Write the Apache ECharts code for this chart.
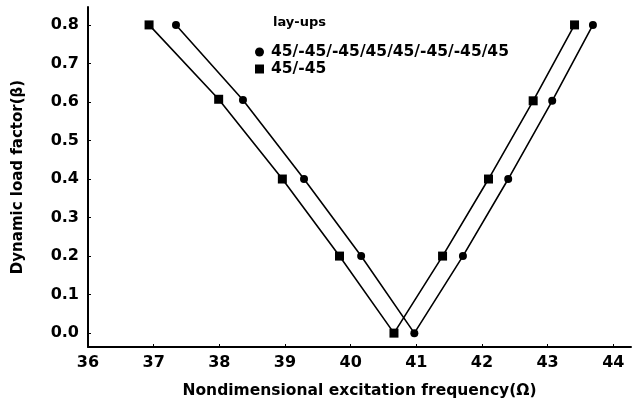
<!DOCTYPE html>
<html>
<head>
<meta charset="utf-8">
<script src="https://cdn.jsdelivr.net/npm/echarts@6/dist/echarts.min.js"></script>
<style>html,body{margin:0;padding:0;background:#fff;}#c{width:632px;height:406px;}</style>
</head>
<body>
<div id="c"></div>
<script>
const seriesNames = ['45/-45/-45/45/45/-45/-45/45', '45/-45'];
const legendTitle = 'lay-ups';
const xAxisName = 'Nondimensional excitation frequency(Ω)';
const yAxisName = 'Dynamic load factor(β)';
const xTicks = [36, 37, 38, 39, 40, 41, 42, 43, 44];
const yTicks = [0.0, 0.1, 0.2, 0.3, 0.4, 0.5, 0.6, 0.7, 0.8];

const circleX = [37.34, 38.36, 39.29, 40.16, 40.97, 41.71, 42.40, 43.07, 43.69];
const circleY = [0.8, 0.605, 0.4, 0.2, 0.0, 0.2, 0.4, 0.603, 0.8];
const squareX = [36.93, 37.99, 38.96, 39.83, 40.66, 41.40, 42.10, 42.78, 43.41];
const squareY = [0.8, 0.607, 0.4, 0.2, 0.0, 0.2, 0.4, 0.603, 0.8];

const font = 'DejaVu Sans';
const zip = (xs, ys) => xs.map((x, i) => [x, ys[i]]);

const chart = echarts.init(document.getElementById('c'));
chart.setOption({
  animation: false,
  backgroundColor: '#fff',
  textStyle: { fontFamily: font, color: '#000' },
  title: {
    text: legendTitle, left: 268, top: 11,
    textStyle: { fontFamily: font, fontSize: 13, fontWeight: 'bold', color: '#000' }
  },
  legend: {
    orient: 'vertical', left: 250, top: 39, itemGap: 1,
    itemWidth: 9, itemHeight: 9,
    textStyle: { fontFamily: font, fontSize: 15.5, fontWeight: 'bold', color: '#000', padding: [0, 0, 0, 2] },
    data: [{ name: seriesNames[0], icon: 'circle' }, { name: seriesNames[1], icon: 'rect' }]
  },
  grid: { left: 88, right: 1, top: 7, bottom: 59 },
  xAxis: {
    type: 'value', min: 36, max: 44.27, interval: 1,
    name: xAxisName, nameLocation: 'middle', nameGap: 36,
    nameTextStyle: { fontFamily: font, fontSize: 15.5, fontWeight: 'bold', color: '#000' },
    axisLine: { onZero: false, lineStyle: { color: '#000', width: 2 } },
    axisTick: { inside: true, length: 3, lineStyle: { color: '#000' }, customValues: xTicks },
    axisLabel: { customValues: xTicks, margin: 8, fontFamily: font, fontSize: 16, fontWeight: 'bold', color: '#000' },
    splitLine: { show: false }
  },
  yAxis: {
    type: 'value', min: -0.036, max: 0.8465,
    name: yAxisName, nameLocation: 'middle', nameGap: 62,
    nameTextStyle: { fontFamily: font, fontSize: 15, fontWeight: 'bold', color: '#000' },
    axisLine: { show: true, onZero: false, lineStyle: { color: '#000', width: 2 } },
    axisTick: { show: true, inside: true, length: 3, lineStyle: { color: '#000' }, customValues: yTicks },
    axisLabel: { customValues: yTicks, margin: 9, fontFamily: font, fontSize: 16, fontWeight: 'bold', color: '#000',
      formatter: v => v.toFixed(1) },
    splitLine: { show: false }
  },
  series: [
    { name: seriesNames[0], type: 'line', data: zip(circleX, circleY), symbol: 'circle', symbolSize: 8,
      lineStyle: { color: '#000', width: 1.6 }, itemStyle: { color: '#000' } },
    { name: seriesNames[1], type: 'line', data: zip(squareX, squareY), symbol: 'rect', symbolSize: 9,
      lineStyle: { color: '#000', width: 1.6 }, itemStyle: { color: '#000' } }
  ]
});
</script>
</body>
</html>
